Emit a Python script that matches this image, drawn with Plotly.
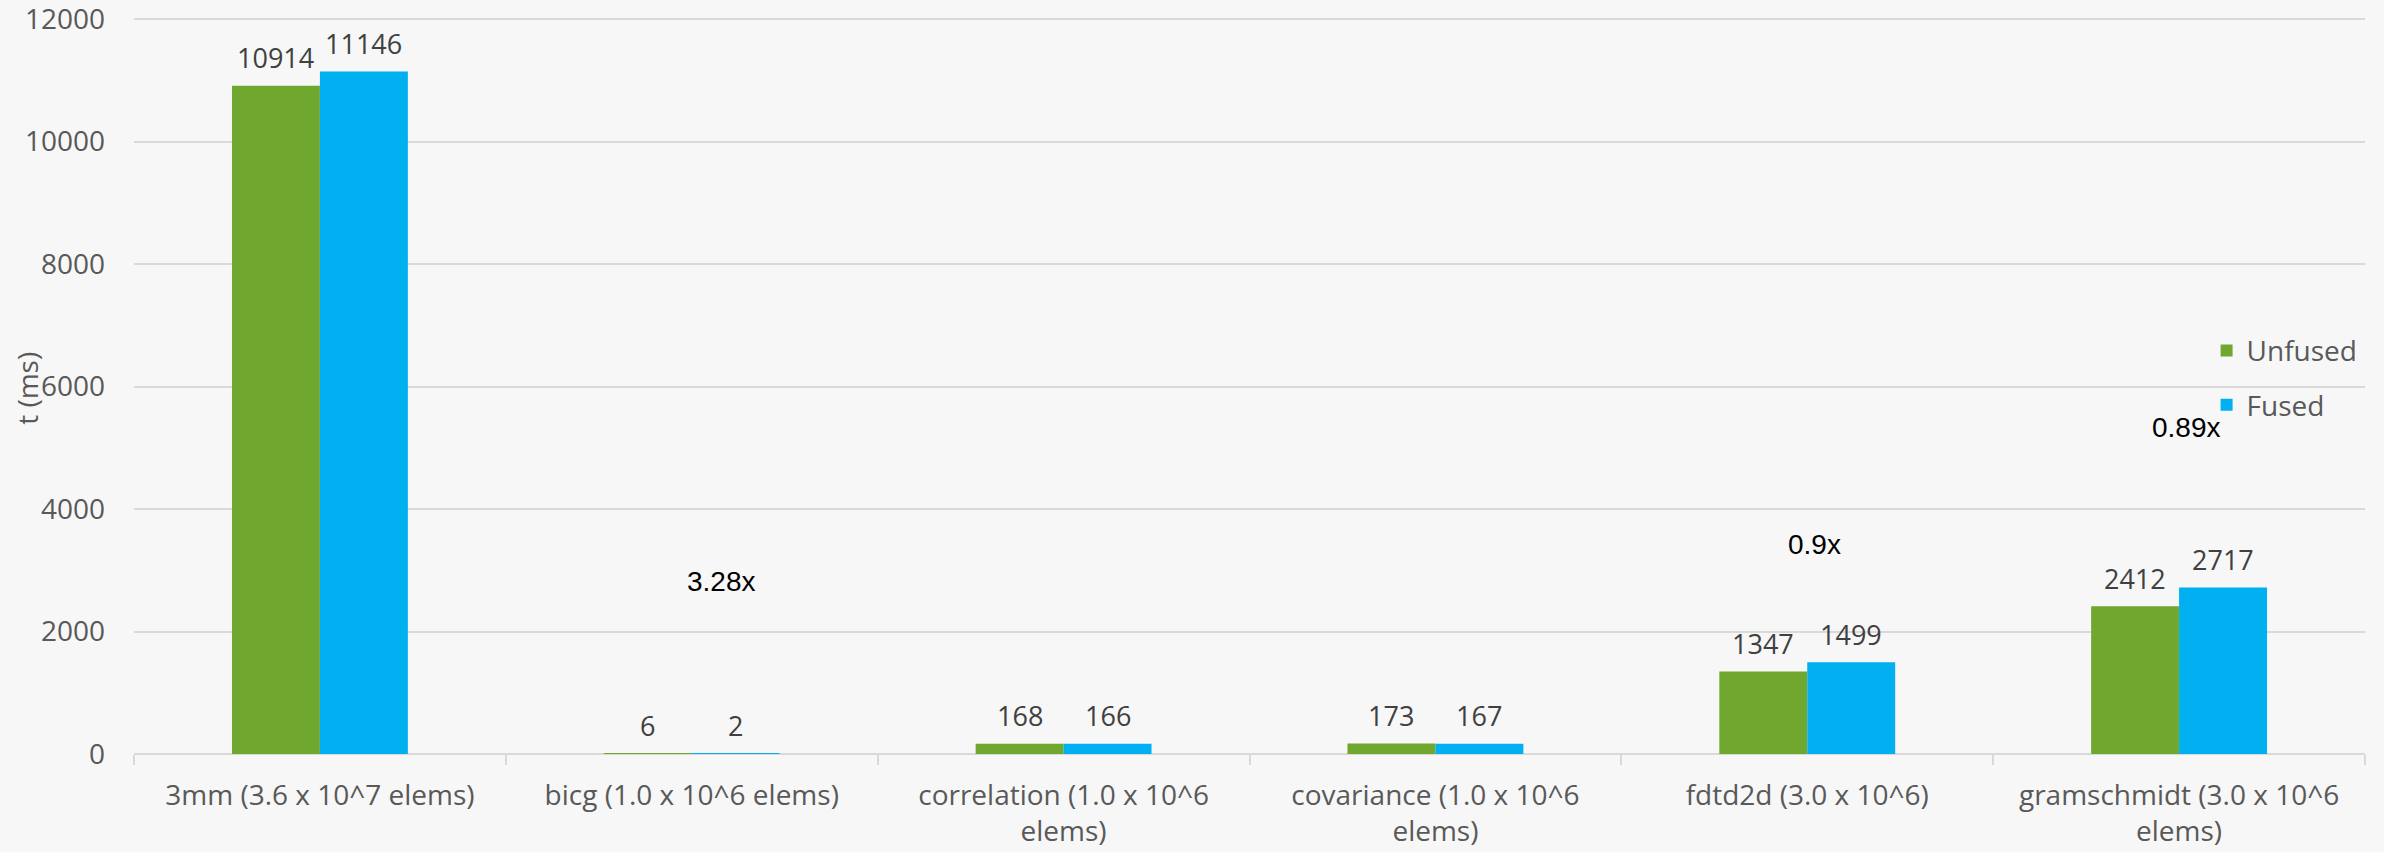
import plotly.graph_objects as go

categories = [
    "3mm (3.6 x 10^7 elems)",
    "bicg (1.0 x 10^6 elems)",
    "correlation (1.0 x 10^6<br>elems)",
    "covariance (1.0 x 10^6<br>elems)",
    "fdtd2d (3.0 x 10^6)",
    "gramschmidt (3.0 x 10^6<br>elems)",
]
unfused = [10914, 6, 168, 173, 1347, 2412]
fused = [11146, 2, 166, 167, 1499, 2717]

y_ticks = [0, 2000, 4000, 6000, 8000, 10000, 12000]

speedup_labels = ["3.28x", "0.9x", "0.89x"]
speedup_x = [1.08, 4.02, 5.02]
speedup_y = [2810, 3420, 5330]

GREEN = "#70A82F"
BLUE = "#00B0F0"
GRAY_TXT = "#595959"
LABEL_TXT = "#404040"
GRID = "#D9D9D9"
FONT = "Open Sans"

fig = go.Figure()
fig.add_trace(go.Bar(name="Unfused", x=categories, y=unfused, marker_color=GREEN,
                     marker_line_width=0, legendgroup="a"))
fig.add_trace(go.Bar(name="Fused", x=categories, y=fused, marker_color=BLUE,
                     marker_line_width=0, legendgroup="b"))

annotations = []
for i, (u, f) in enumerate(zip(unfused, fused)):
    for val, shift in ((u, -44), (f, 44)):
        annotations.append(dict(
            x=i, y=val, xref="x", yref="y", text=str(val), showarrow=False,
            xshift=shift, yshift=28, yanchor="middle",
            font=dict(family=FONT, size=27, color=LABEL_TXT)))
for t, x, y in zip(speedup_labels, speedup_x, speedup_y):
    annotations.append(dict(
        x=x, y=y, xref="x", yref="y", text=t, showarrow=False,
        font=dict(family="Liberation Sans", size=28, color="#000000")))
# y-axis title
annotations.append(dict(
    x=-0.048, y=0.494, xref="paper", yref="paper", text="t (ms)",
    showarrow=False, textangle=-90, xanchor="center", yanchor="middle",
    font=dict(family=FONT, size=28, color=GRAY_TXT)))

fig.update_layout(
    width=2384, height=852,
    margin=dict(l=134, r=19, t=13, b=98, autoexpand=False),
    paper_bgcolor="#F7F7F7", plot_bgcolor="#F7F7F7",
    barmode="group", bargap=0.527, bargroupgap=0,
    font=dict(family=FONT, size=28, color=GRAY_TXT),
    legend=dict(x=0.929, y=0.578, xanchor="left", yanchor="top",
                bgcolor="rgba(0,0,0,0)", tracegroupgap=15,
                font=dict(family=FONT, size=28, color=GRAY_TXT)),
    annotations=annotations,
    showlegend=True,
)
fig.update_xaxes(
    type="category", tickson="boundaries", ticks="outside", ticklen=10,
    tickcolor=GRID, tickwidth=2, showline=False, showgrid=False,
    tickfont=dict(family=FONT, size=28, color=GRAY_TXT),
    ticklabelstandoff=22, automargin=False,
)
fig.update_yaxes(
    range=[0, 12100], tickmode="array", tickvals=y_ticks,
    ticktext=[str(v) for v in y_ticks],
    showgrid=True, gridcolor=GRID, gridwidth=2,
    zeroline=True, zerolinecolor=GRID, zerolinewidth=2, showline=False,
    tickfont=dict(family=FONT, size=28, color=GRAY_TXT),
    ticklabelstandoff=28, automargin=False, ticklabeloverflow="allow",
)

fig.write_html("out.html")
